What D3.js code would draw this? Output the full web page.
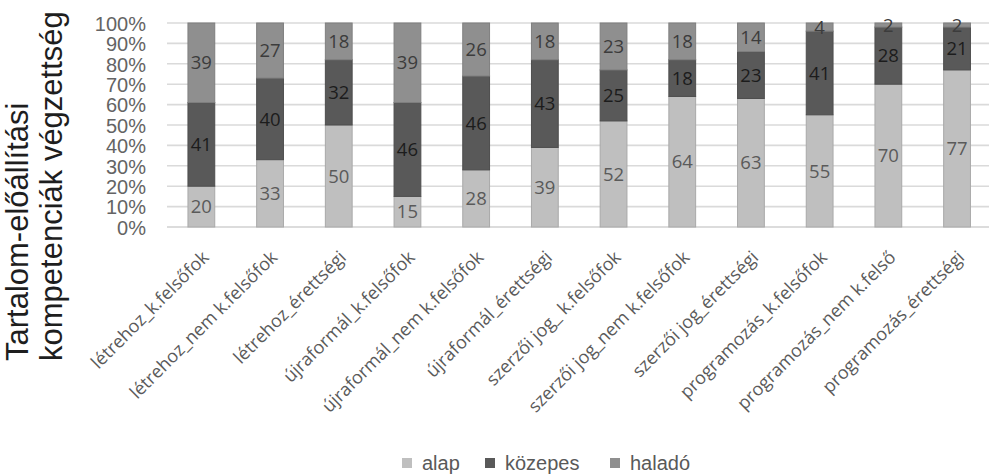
<!DOCTYPE html>
<html>
<head>
<meta charset="utf-8">
<script src="https://cdn.jsdelivr.net/npm/d3@7"></script>
<style>
  html, body { margin: 0; padding: 0; background: #ffffff; }
  svg { display: block; }
</style>
</head>
<body>
<svg id="chart" width="991" height="474"></svg>
<script>
const categories = [
  "létrehoz_k.felsőfok",
  "létrehoz_nem k.felsőfok",
  "létrehoz_érettségi",
  "újraformál_k.felsőfok",
  "újraformál_nem k.felsőfok",
  "újraformál_érettségi",
  "szerzői jog_ k.felsőfok",
  "szerzői jog_nem k.felsőfok",
  "szerzői jog_érettségi",
  "programozás_k.felsőfok",
  "programozás_nem k.felső",
  "programozás_érettségi"
];
const seriesNames = ["alap", "közepes", "haladó"];
const alap    = [20, 33, 50, 15, 28, 39, 52, 64, 63, 55, 70, 77];
const kozepes = [41, 40, 32, 46, 46, 43, 25, 18, 23, 41, 28, 21];
const halado  = [39, 27, 18, 39, 26, 18, 23, 18, 14, 4, 2, 2];
const yTicks = [0, 0.1, 0.2, 0.3, 0.4, 0.5, 0.6, 0.7, 0.8, 0.9, 1.0];
const yTitleLines = ["Tartalom-előállítási", "kompetenciák végzettség"];

const fills   = { "alap": "#bfbfbf", "közepes": "#595959", "haladó": "#8f8f8f" };
const strokes = { "alap": "#a9a9a9", "közepes": "#4d4d4d", "haladó": "#7f7f7f" };
const labelColors = { "alap": "#5a5a5a", "közepes": "#1c1c1c", "haladó": "#3c3c3c" };

const rows = categories.map((c, i) => ({ cat: c, "alap": alap[i], "közepes": kozepes[i], "haladó": halado[i] }));
const stack = d3.stack().keys(seriesNames).offset(d3.stackOffsetExpand);
const stacked = stack(rows);

const svg = d3.select("#chart");
const plot = { left: 167, right: 991.4, top: 23, bottom: 227 };

const x = d3.scaleBand().domain(categories).range([plot.left, plot.right])
  .paddingInner(0.61).paddingOuter(0.305);
const y = d3.scaleLinear().domain([0, 1]).range([plot.bottom, plot.top]);

// gridlines
svg.append("g").selectAll("line").data(yTicks).join("line")
  .attr("x1", plot.left).attr("x2", 989)
  .attr("y1", d => y(d)).attr("y2", d => y(d))
  .attr("stroke", d => d === 0 ? "#d0d0d0" : "#dadada")
  .attr("stroke-width", 1.6);

// y axis labels
const yAxis = d3.axisLeft(y).tickValues(yTicks).tickFormat(d3.format(".0%")).tickSize(0).tickPadding(0);
const yg = svg.append("g").attr("transform", `translate(146,0)`).call(yAxis);
yg.select(".domain").remove();
yg.selectAll("text")
  .attr("font-family", "'Liberation Sans', Arial, sans-serif")
  .attr("font-size", 20).attr("fill", "#646464").attr("dy", "0.36em");

// bars
const layers = svg.append("g").selectAll("g").data(stacked).join("g")
  .attr("fill", d => fills[d.key]).attr("stroke", d => strokes[d.key]);
layers.selectAll("rect").data(d => d.map(v => ({ v, key: d.key }))).join("rect")
  .attr("x", d => x(d.v.data.cat))
  .attr("width", x.bandwidth())
  .attr("y", d => y(d.v[1]))
  .attr("height", d => y(d.v[0]) - y(d.v[1]))
  .attr("stroke-width", 1);

// data labels
const labels = svg.append("g");
stacked.forEach(layer => {
  labels.selectAll(null).data(layer).join("text")
    .attr("x", d => x(d.data.cat) + x.bandwidth() / 2)
    .attr("y", d => y((d[0] + d[1]) / 2))
    .attr("dy", "0.36em")
    .attr("text-anchor", "middle")
    .attr("font-family", "'Open Sans', sans-serif")
    .attr("font-size", 18.5)
    .attr("fill", labelColors[layer.key])
    .text(d => d.data[layer.key]);
});

// x labels rotated
const xg = svg.append("g");
xg.selectAll("text").data(categories).join("text")
  .attr("transform", d => `translate(${x(d) + x.bandwidth() / 2 + 4},${plot.bottom + 27}) rotate(-45)`)
  .attr("text-anchor", "end")
  .attr("dy", "0.35em")
  .attr("font-family", "'Open Sans', sans-serif")
  .attr("font-size", 18)
  .attr("fill", "#5a5a5a")
  .text(d => d);

// y title
const yt = svg.append("text")
  .attr("transform", "translate(0,361) rotate(-90)")
  .attr("font-family", "'Liberation Sans', Arial, sans-serif")
  .attr("font-size", 31)
  .attr("fill", "#1e1e1e")
  .attr("text-anchor", "start");
yt.selectAll("tspan").data(yTitleLines).join("tspan")
  .attr("x", 0)
  .attr("y", (d, i) => 28 + i * 34)
  .text(d => d);

// legend
const legendX = [402, 485, 610];
const lg = svg.append("g");
seriesNames.forEach((s, i) => {
  lg.append("rect").attr("x", legendX[i]).attr("y", 458).attr("width", 10).attr("height", 10)
    .attr("fill", fills[s]);
  lg.append("text").attr("x", legendX[i] + 20).attr("y", 470)
    .attr("font-family", "'Liberation Sans', Arial, sans-serif")
    .attr("font-size", 20).attr("fill", "#595959")
    .text(s);
});
</script>
</body>
</html>
